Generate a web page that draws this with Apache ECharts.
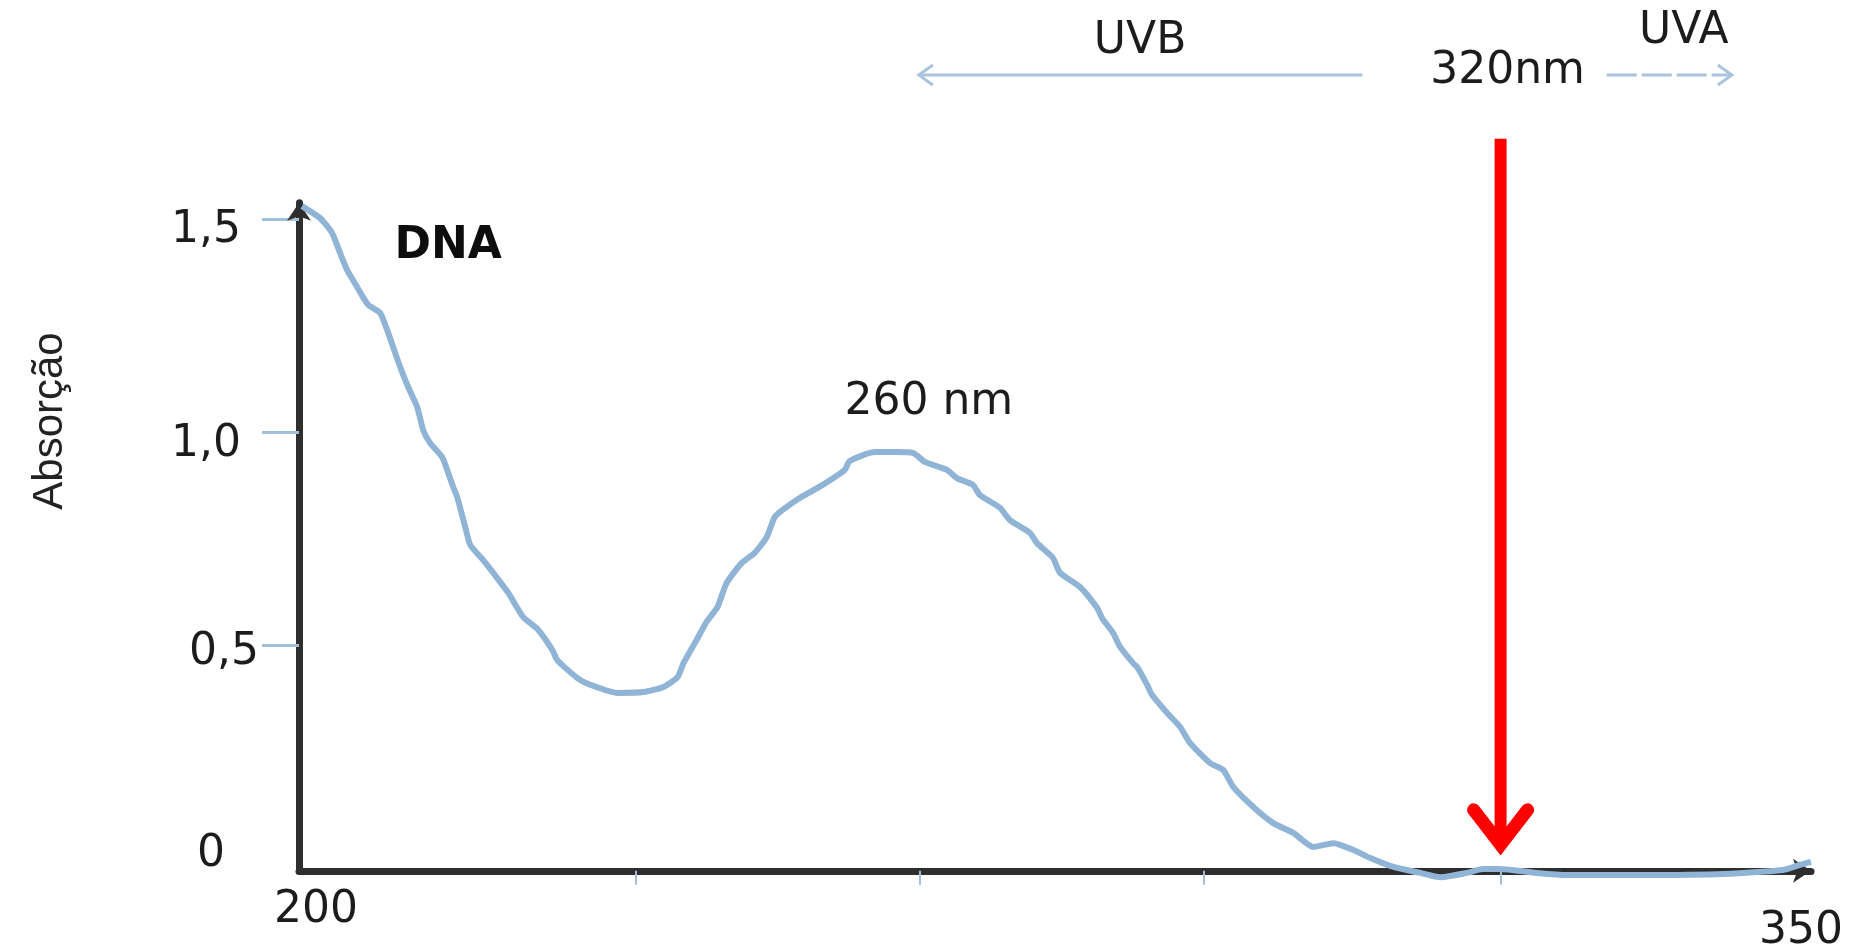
<!DOCTYPE html>
<html>
<head>
<meta charset="utf-8">
<title>Absorção do DNA</title>
<script src="https://cdn.jsdelivr.net/npm/echarts@6/dist/echarts.min.js"></script>
<style>
  html, body { margin: 0; padding: 0; background: #ffffff; }
  #chart { width: 1860px; height: 948px; }
</style>
</head>
<body>
<div id="chart"></div>
<script>
// DNA absorption spectrum (wavelength in nm, absorbance)
const wavelengthNm = [
  200.3, 200.9, 202.1, 203.3, 204.1, 204.8, 205.8, 206.9, 208.1, 208.8,
  209.4, 210.1, 210.9, 211.8, 212.4, 213.1, 214.3, 214.9, 215.4, 215.8,
  216.6, 217.1, 218.4, 219.4, 220.9, 222.4, 223.9, 225.3, 225.8, 227.8,
  229.1, 231.8, 234.4, 236.4, 237.8, 238.4, 239.7, 240.7, 241.8, 242.7,
  244.2, 245.5, 246.7, 247.5, 248.3, 250.0, 252.3, 254.5, 255.0, 257.5,
  259.7, 261.3, 262.5, 264.7, 265.7, 267.3, 268.0, 270.0, 271.0, 273.0,
  273.7, 275.3, 276.0, 278.0, 279.7, 280.2, 281.3, 282.0, 283.3, 283.7,
  284.7, 285.2, 286.7, 288.0, 289.0, 291.0, 292.3, 293.3, 295.3, 297.3,
  299.3, 301.3, 303.3, 305.3, 307.0, 309.3, 312.0, 314.0, 316.6, 318.2,
  319.9, 323.6, 326.6, 331.6, 341.6, 348.2, 349.9, 351.0
];
const absorbance = [
  1.532, 1.523, 1.504, 1.469, 1.422, 1.382, 1.342, 1.300, 1.281, 1.241,
  1.201, 1.154, 1.107, 1.060, 1.006, 0.975, 0.942, 0.905, 0.872, 0.848,
  0.778, 0.736, 0.700, 0.670, 0.623, 0.566, 0.536, 0.489, 0.465, 0.423,
  0.407, 0.388, 0.390, 0.402, 0.425, 0.458, 0.512, 0.555, 0.590, 0.646,
  0.693, 0.717, 0.754, 0.801, 0.818, 0.846, 0.877, 0.912, 0.933, 0.954,
  0.954, 0.952, 0.931, 0.912, 0.893, 0.877, 0.853, 0.823, 0.794, 0.764,
  0.740, 0.705, 0.670, 0.637, 0.588, 0.564, 0.529, 0.496, 0.458, 0.449,
  0.407, 0.383, 0.341, 0.308, 0.270, 0.223, 0.207, 0.167, 0.120, 0.082,
  0.059, 0.026, 0.035, 0.019, 0.000, -0.021, -0.035, -0.045, -0.035, -0.026,
  -0.026, -0.035, -0.040, -0.040, -0.038, -0.028, -0.016, -0.009
];

// Axis ticks and labels
const yTickValues = [0.5, 1.0, 1.5];
const yLabelValues = [0, 0.5, 1.0, 1.5];
const yLabelText = ['0', '0,5', '1,0', '1,5'];
const xTickValues = [233.6, 262, 290.4, 320];
const xLabelValues = [200, 350];
const xLabelText = ['200', '350'];

// UV band annotations
const cutoffNm = 320;
const cutoffArrowTop = 1.69;
const cutoffArrowTip = 0.031;
const uvbArrowNm = [261.9, 306.2];
const uvaArrowNm = [330.6, 343.1];
const bandArrowLevel = 1.84;
const noteText = ['UVB', '320nm', 'UVA', '260 nm', 'DNA'];
const noteNm = [284.0, 320.7, 338.3, 262.9, 214.9];
const noteLevel = [1.918, 1.849, 1.941, 1.070, 1.438];
const noteBold = [false, false, false, false, true];

const FONT = '"DejaVu Sans", "Liberation Sans", sans-serif';
const TEXT_COLOR = '#1c1c1c';
const AXIS_COLOR = '#2e2e2e';
const CURVE_COLOR = '#8fb4d5';
const BAND_COLOR = '#a9c4dc';
const TICK_COLOR = '#a3c0da';

const yRich = {
  y0: { padding: [0, 34, 6, 0] },
  y1: { padding: [14, 0, 0, 0] },
  y2: { padding: [25, 18, 0, 0] },
  y3: { padding: [22, 18, 0, 0] }
};
const xRich = {
  x0: { padding: [0, 0, 0, 34] },
  x1: { padding: [21, 0, 0, 0] }
};
Object.keys(yRich).forEach(k => Object.assign(yRich[k], { fontSize: 44, fontFamily: FONT, color: TEXT_COLOR }));
Object.keys(xRich).forEach(k => Object.assign(xRich[k], { fontSize: 44, fontFamily: FONT, color: TEXT_COLOR }));

function indexOfValue(list, v) {
  for (let i = 0; i < list.length; i++) {
    if (Math.abs(list[i] - v) < 1e-6) return i;
  }
  return -1;
}

function chevron(tip, dx, dy) {
  return [[tip[0] + dx, tip[1] - dy], [tip[0], tip[1]], [tip[0] + dx, tip[1] + dy]];
}

function renderNotes(params, api) {
  const children = [];

  // red marker at the UVB / UVA boundary
  const top = api.coord([cutoffNm, cutoffArrowTop]);
  const tip = api.coord([cutoffNm, cutoffArrowTip]);
  children.push({
    type: 'line',
    shape: { x1: top[0], y1: top[1], x2: tip[0], y2: tip[1] - 4 },
    style: { stroke: '#ff0000', lineWidth: 12 }
  });
  children.push({
    type: 'polyline',
    shape: { points: [[tip[0] - 27, tip[1] - 35], [tip[0], tip[1]], [tip[0] + 27, tip[1] - 35]] },
    style: { stroke: '#ff0000', lineWidth: 13, fill: null, lineJoin: 'miter', lineCap: 'round' }
  });

  // UVB arrow pointing to shorter wavelengths
  const b0 = api.coord([uvbArrowNm[0], bandArrowLevel]);
  const b1 = api.coord([uvbArrowNm[1], bandArrowLevel]);
  children.push({
    type: 'line',
    shape: { x1: b0[0], y1: b0[1], x2: b1[0], y2: b1[1] },
    style: { stroke: BAND_COLOR, lineWidth: 3 }
  });
  children.push({
    type: 'polyline',
    shape: { points: chevron(b0, 14, 10) },
    style: { stroke: BAND_COLOR, lineWidth: 3, fill: null }
  });

  // UVA arrow pointing to longer wavelengths
  const a0 = api.coord([uvaArrowNm[0], bandArrowLevel]);
  const a1 = api.coord([uvaArrowNm[1], bandArrowLevel]);
  children.push({
    type: 'line',
    shape: { x1: a0[0], y1: a0[1], x2: a1[0], y2: a1[1] },
    style: { stroke: BAND_COLOR, lineWidth: 3, lineDash: [30, 5] }
  });
  children.push({
    type: 'polyline',
    shape: { points: chevron(a1, -14, 10) },
    style: { stroke: BAND_COLOR, lineWidth: 3, fill: null }
  });

  // text notes
  for (let i = 0; i < noteText.length; i++) {
    const p = api.coord([noteNm[i], noteLevel[i]]);
    children.push({
      type: 'text',
      style: {
        text: noteText[i],
        x: p[0],
        y: p[1],
        align: 'center',
        verticalAlign: 'middle',
        fontSize: 44,
        fontFamily: FONT,
        fontWeight: noteBold[i] ? 'bold' : 'normal',
        fill: noteBold[i] ? '#0d0d0d' : TEXT_COLOR
      }
    });
  }
  return { type: 'group', children: children };
}

const chart = echarts.init(document.getElementById('chart'), null, { renderer: 'canvas' });

chart.setOption({
  backgroundColor: '#ffffff',
  animation: false,
  textStyle: { fontFamily: FONT },
  grid: {
    left: 299, right: 49, top: 202.7, bottom: 77.2,
    containLabel: false,
    outerBoundsMode: 'none'
  },
  graphic: [{
    type: 'text',
    x: 50,
    y: 421,
    rotation: Math.PI / 2,
    style: {
      text: 'Absorção',
      align: 'center',
      verticalAlign: 'middle',
      fontSize: 42,
      fontFamily: '"Liberation Sans", Arial, sans-serif',
      fill: '#222222'
    }
  }],
  xAxis: {
    type: 'value',
    min: 200,
    max: 351,
    splitLine: { show: false },
    axisLine: {
      show: true,
      onZero: false,
      symbol: ['none', 'arrow'],
      symbolSize: [18, 18],
      lineStyle: { color: AXIS_COLOR, width: 7 }
    },
    axisTick: {
      show: true,
      customValues: xTickValues,
      length: 14,
      lineStyle: { color: TICK_COLOR, width: 2 }
    },
    axisLabel: {
      customValues: xLabelValues,
      margin: 18,
      formatter: function (v) {
        const i = indexOfValue(xLabelValues, v);
        return i < 0 ? '' : '{x' + i + '|' + xLabelText[i] + '}';
      },
      rich: xRich
    }
  },
  yAxis: {
    type: 'value',
    min: -0.03,
    max: 1.54,
    splitLine: { show: false },
    axisLine: {
      show: true,
      onZero: false,
      symbol: ['none', 'arrow'],
      symbolSize: [18, 18],
      lineStyle: { color: AXIS_COLOR, width: 7 }
    },
    axisTick: {
      show: true,
      customValues: yTickValues,
      length: 37,
      lineStyle: { color: TICK_COLOR, width: 3 }
    },
    axisLabel: {
      customValues: yLabelValues,
      margin: 40,
      formatter: function (v) {
        const i = indexOfValue(yLabelValues, v);
        return i < 0 ? '' : '{y' + i + '|' + yLabelText[i] + '}';
      },
      rich: yRich
    }
  },
  series: [
    {
      name: 'DNA',
      type: 'line',
      data: wavelengthNm.map((w, i) => [w, absorbance[i]]),
      showSymbol: false,
      smooth: 0.2,
      clip: false,
      lineStyle: { color: CURVE_COLOR, width: 6 },
      z: 3
    },
    {
      name: 'notas',
      type: 'custom',
      data: [0],
      clip: false,
      silent: true,
      renderItem: renderNotes,
      z: 5
    }
  ]
});
</script>
</body>
</html>
